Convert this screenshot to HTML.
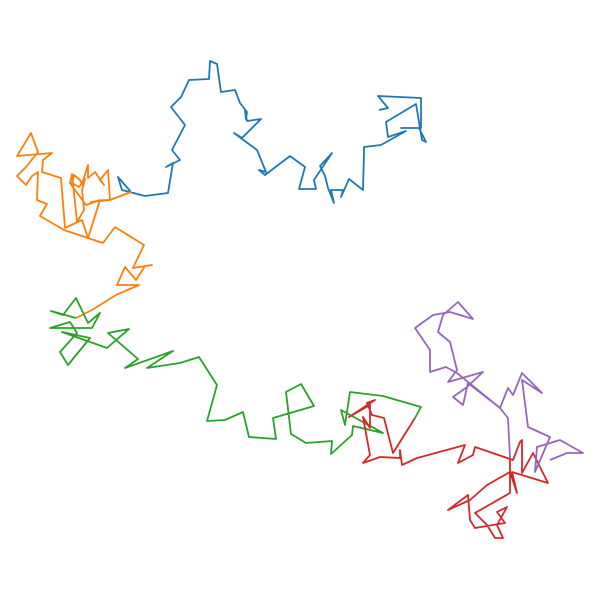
<!DOCTYPE html>
<html><head><meta charset="utf-8"><style>html,body{margin:0;padding:0;background:#fff;}svg{display:block;}</style></head>
<body>
<svg id="chart" width="600" height="600" viewBox="0 0 600 600">
<g id="plot"></g>
</svg>
<script>
const seriesNames = ["walk-1","walk-2","walk-3","walk-4","walk-5"];
const seriesColors = ["#1f77b4","#ff7f0e","#2ca02c","#d62728","#9467bd"];
const walk1 = [[379,110],[388,108],[378,96],[421,98],[421,128],[401,128],[419,128],[426,142],[422,140],[416,104],[386,122],[388,137],[406,131],[381,145],[364,147],[364,152],[363,190],[349,179],[341,197],[343,190],[331,190],[334,203],[328,188],[325,176],[320,166],[332,153],[314,180],[316,189],[299,189],[305,167],[290,156],[265,175],[259,170],[266,172],[257,150],[234,133],[242,138],[261,119],[247,121],[245,110],[246,119],[247,112],[240,103],[235,90],[221,92],[217,64],[210,61],[209,79],[189,80],[181,97],[171,107],[185,125],[172,150],[180,160],[166,167],[173,163],[168,193],[145,196],[122,190],[118,177],[131,192]];
const walk2 = [[131,192],[110,200],[91,202],[104,200],[110,200],[108,170],[100,180],[104,185],[95,172],[88,178],[88,165],[82,184],[80,180],[74,175],[72,183],[79,187],[85,179],[82,190],[84,210],[77,222],[72,174],[70,183],[86,205],[100,200],[88,238],[82,220],[65,228],[61,178],[42,172],[43,160],[52,153],[17,156],[31,133],[38,152],[26,167],[17,176],[26,185],[32,176],[38,172],[37,200],[47,204],[40,216],[64,230],[103,243],[115,227],[144,245],[133,268],[152,265],[145,266],[136,280],[125,267],[117,285],[139,285],[116,295],[92,310],[76,318]];
const walk3 = [[76,318],[51,311],[63,315],[76,298],[88,323],[100,313],[92,328],[50,328],[70,322],[77,333],[60,352],[68,365],[90,338],[62,332],[107,348],[129,329],[108,333],[138,359],[125,368],[173,351],[147,368],[180,363],[199,357],[217,385],[207,421],[225,420],[243,412],[249,437],[276,439],[273,418],[314,406],[301,384],[286,392],[291,434],[306,443],[332,441],[331,454],[352,435],[353,426],[383,433],[341,410],[345,425],[350,392],[383,396],[421,407],[415,418]];
const walk4 = [[415,418],[393,453],[384,418],[372,415],[367,403],[375,400],[349,417],[370,405],[370,428],[363,417],[370,455],[363,463],[380,457],[400,458],[400,450],[402,465],[417,458],[465,445],[458,463],[473,455],[475,447],[513,460],[520,442],[522,440],[522,473],[533,453],[548,483],[512,472],[517,493],[510,472],[487,485],[470,500],[448,510],[468,495],[470,520],[475,528],[505,523],[497,512],[507,507],[497,525],[503,538],[495,538],[487,525],[475,513],[510,493],[510,458]];
const walk5 = [[510,458],[508,418],[500,408],[468,383],[463,405],[453,397],[467,387],[483,372],[448,382],[457,370],[450,342],[438,332],[443,315],[458,302],[473,319],[450,312],[433,315],[415,328],[430,350],[430,372],[446,367],[457,373],[500,408],[508,388],[513,395],[522,373],[542,393],[522,380],[528,427],[550,437],[535,472],[537,447],[560,440],[583,453],[567,453],[550,460]];
const allWalks = [walk1,walk2,walk3,walk4,walk5];
const xDomain = [0,600], yDomain = [0,600];
function xScale(v){return (v-xDomain[0])/(xDomain[1]-xDomain[0])*600;}
function yScale(v){return (v-yDomain[0])/(yDomain[1]-yDomain[0])*600;}
const plot = document.getElementById('plot');
allWalks.forEach((w,i)=>{
  const p = document.createElementNS('http://www.w3.org/2000/svg','polyline');
  p.setAttribute('points', w.map(d=>xScale(d[0]).toFixed(1)+','+yScale(d[1]).toFixed(1)).join(' '));
  p.setAttribute('fill','none');
  p.setAttribute('stroke',seriesColors[i]);
  p.setAttribute('stroke-width','1.8');
  p.setAttribute('stroke-linejoin','round');
  
  
  plot.appendChild(p);
});
</script>
</body></html>
